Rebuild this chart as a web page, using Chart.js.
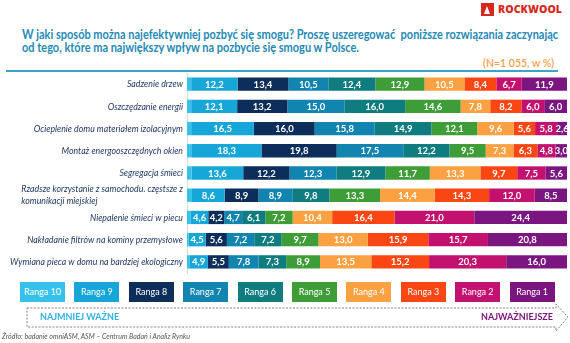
<!DOCTYPE html>
<html lang="pl">
<head>
<meta charset="utf-8">
<script src="https://cdn.jsdelivr.net/npm/chart.js"></script>
<style>
  body { margin: 0; width: 570px; height: 343px; overflow: hidden; background: #fff; font-family: Lato, "Open Sans", sans-serif; position: relative; }
  #logo { position: absolute; left: 481px; top: 2px; height: 14px; display: flex; align-items: center; }
  #logo .sq { width: 13px; height: 13px; background: #d9261c; position: relative; }
  #logo .sq::after { content: ""; position: absolute; left: 3px; top: 3px; border-left: 3.5px solid transparent; border-right: 3.5px solid transparent; border-bottom: 8px solid #fff; }
  #logo .txt { color: #d9261c; font-family: "Open Sans", sans-serif; font-weight: 800; font-size: 10.5px; margin-left: 4px; letter-spacing: 0.1px; }
  #title { position: absolute; left: 22px; top: 29px; color: #1f8ab5; font-weight: 700; font-size: 12.5px; line-height: 12.5px; white-space: nowrap; transform-origin: 0 0; }
  #nota { position: absolute; right: 16px; top: 57px; color: #f5a04a; font-size: 10.5px; font-weight: 600; }
  #linia { position: absolute; left: 6px; top: 70px; width: 552px; height: 1.5px; background: #3aa4c8; }
  #wykres { position: absolute; left: 0; top: 0; }
  #legenda { position: absolute; left: 20px; top: 282px; }
  #legenda div { position: absolute; top: 0; width: 45px; height: 20px; color: #fff; font-size: 9px; line-height: 20px; text-align: center; }
  #strzalka { position: absolute; left: 0; top: 300px; }
  #min { position: absolute; left: 40px; top: 311px; color: #2bb3e3; font-weight: 700; font-size: 9px; }
  #max { position: absolute; left: 481px; top: 311px; color: #7d1480; font-weight: 700; font-size: 9px; }
  #zrodlo { position: absolute; left: 2px; top: 332px; color: #555; font-style: italic; font-size: 7px; }
</style>
</head>
<body>
<div id="logo"><div class="sq"></div><div class="txt">ROCKWOOL</div></div>
<div id="title">W jaki sposób można najefektywniej pozbyć się smogu? Proszę uszeregować&nbsp; poniższe rozwiązania zaczynając<br>od tego, które ma największy wpływ na pozbycie się smogu w Polsce.</div>
<div id="nota">(N=1 055, w %)</div>
<div id="linia"></div>
<canvas id="wykres" width="570" height="343"></canvas>
<div id="legenda"></div>
<svg id="strzalka" width="570" height="34">
  <path d="M27 8 L556 8 L556 4 L568 17 L556 31 L556 27 L27 27 Z" fill="none" stroke="#7f7f7f" stroke-width="1" stroke-dasharray="2,1.5"/>
</svg>
<div id="min">NAJMNIEJ WAŻNE</div>
<div id="max">NAJWAŻNIEJSZE</div>
<div id="zrodlo">Źródło: badanie omniASM, ASM – Centrum Badań i Analiz Rynku</div>

<script>
// kategorie (od góry)
const kategorie = [
    'Sadzenie drzew',
    'Oszczędzanie energii',
    'Ocieplenie domu materiałem izolacyjnym',
    'Montaż energooszczędnych okien',
    'Segregacja śmieci',
    ['Rzadsze korzystanie z samochodu. częstsze z', 'komunikacji miejskiej'],
    'Niepalenie śmieci w piecu',
    'Nakładanie filtrów na kominy przemysłowe',
    'Wymiana pieca w domu na bardziej ekologiczny'
];

// wartości w %, od Rangi 10 do Rangi 1
const ranga10 = [1.1, 1.1, 1.1, 1.3, 1.2, 1.3, 1.0, 0.4, 0.6];
const ranga9 = [12.2, 12.1, 16.5, 18.3, 13.6, 8.6, 4.6, 4.5, 4.9];
const ranga8 = [13.4, 13.2, 16.0, 19.8, 12.2, 8.9, 4.2, 5.6, 5.5];
const ranga7 = [10.5, 15.0, 15.8, 17.5, 12.3, 8.9, 4.7, 7.2, 7.8];
const ranga6 = [12.4, 16.0, 14.9, 12.2, 12.9, 9.8, 6.1, 7.2, 7.3];
const ranga5 = [12.9, 14.6, 12.1, 9.5, 11.7, 13.3, 7.2, 9.7, 8.9];
const ranga4 = [10.5, 7.8, 9.6, 7.3, 13.3, 14.4, 10.4, 13.0, 13.5];
const ranga3 = [8.4, 8.2, 5.6, 6.3, 9.7, 14.3, 16.4, 15.9, 15.2];
const ranga2 = [6.7, 6.0, 5.8, 4.8, 7.5, 12.0, 21.0, 15.7, 20.3];
const ranga1 = [11.9, 6.0, 2.6, 3.0, 5.6, 8.5, 24.4, 20.8, 16.0];

const nazwyRang = ['Ranga 10', 'Ranga 9', 'Ranga 8', 'Ranga 7', 'Ranga 6', 'Ranga 5', 'Ranga 4', 'Ranga 3', 'Ranga 2', 'Ranga 1'];
const kolory = ['#35c1ea', '#17a6d8', '#0d2d5a', '#1284b0', '#0f7c80', '#3f9d38', '#fba142', '#fa4612', '#c3116f', '#7b1580'];
const serie = [ranga10, ranga9, ranga8, ranga7, ranga6, ranga5, ranga4, ranga3, ranga2, ranga1];

// legenda (prostokąty z tekstem)
const legenda = document.getElementById('legenda');
nazwyRang.forEach((n, i) => {
    let d = document.createElement('div');
    d.textContent = n;
    d.style.left = (i * 54.4) + 'px';
    d.style.background = kolory[i];
    legenda.appendChild(d);
});

// wartości na słupkach (bez Rangi 10)
const etykiety = {
    id: 'etykiety',
    afterDatasetsDraw(chart) {
        const ctx = chart.ctx;
        ctx.save();
        ctx.fillStyle = '#fff';
        ctx.font = 'bold 9.5px Lato, "Open Sans", sans-serif';
        ctx.textAlign = 'center';
        ctx.textBaseline = 'middle';
        chart.data.datasets.forEach((ds, i) => {
            if (i == 0) return;
            chart.getDatasetMeta(i).data.forEach((bar, j) => {
                let x = (bar.x + bar.base) / 2;
                ctx.fillText(ds.data[j].toFixed(1).replace('.', ','), x, bar.y + 0.5);
            });
        });
        ctx.restore();
    }
};

// opisy kategorii po lewej - 10px, ściśnięte żeby najdłuższy miał max 173px
const opisy = {
    id: 'opisy',
    afterDraw(chart) {
        const ctx = chart.ctx;
        const yScale = chart.scales.y;
        const prawa = chart.chartArea.left - 4;
        ctx.save();
        ctx.font = 'italic 10px Lato, "Open Sans", sans-serif';
        ctx.fillStyle = '#1f3864';
        ctx.textBaseline = 'middle';
        let maxW = 0;
        kategorie.forEach(k => { [].concat(k).forEach(t => { maxW = Math.max(maxW, ctx.measureText(t).width); }); });
        const f = Math.min(1, 173 / maxW);
        kategorie.forEach((k, i) => {
            const y = yScale.getPixelForTick(i);
            if (Array.isArray(k)) {
                const w0 = ctx.measureText(k[0]).width * f;
                const w1 = ctx.measureText(k[1]).width * f;
                ctx.textAlign = 'left';
                ctx.fillText(k[0], prawa - w0, y - 6, w0);
                ctx.fillText(k[1], prawa - w0, y + 6, w1);
            } else {
                ctx.textAlign = 'right';
                ctx.fillText(k, prawa, y, ctx.measureText(k).width * f);
            }
        });
        ctx.restore();
    }
};

function rysuj() {
    // tytuł ściśnięty do szerokości jak w oryginale
    const tytul = document.getElementById('title');
    tytul.style.transform = 'scaleX(' + (536 / tytul.scrollWidth) + ')';

    const datasets = serie.map((s, i) => ({
        label: nazwyRang[i],
        data: s,
        backgroundColor: kolory[i],
        borderWidth: 0,
        categoryPercentage: 1,
        barPercentage: 0.6
    }));

    new Chart(document.getElementById('wykres'), {
        type: 'bar',
        data: { labels: kategorie, datasets: datasets },
        plugins: [etykiety, opisy],
        options: {
            indexAxis: 'y',
            responsive: false,
            animation: false,
            layout: { padding: { left: 7, right: 3, top: 73, bottom: 70 } },
            plugins: { legend: { display: false }, tooltip: { enabled: false } },
            scales: {
                x: { stacked: true, min: 0, max: 100, display: false },
                y: {
                    stacked: true,
                    grid: { display: false },
                    border: { color: '#d9d9d9' },
                    afterFit: s => { s.width = 180; },
                    ticks: { display: false }
                }
            }
        }
    });
}

Promise.all([
    document.fonts.load('italic 10px Lato'),
    document.fonts.load('bold 10px Lato'),
    document.fonts.load('10px Lato')
]).then(rysuj, rysuj);
</script>
</body>
</html>
